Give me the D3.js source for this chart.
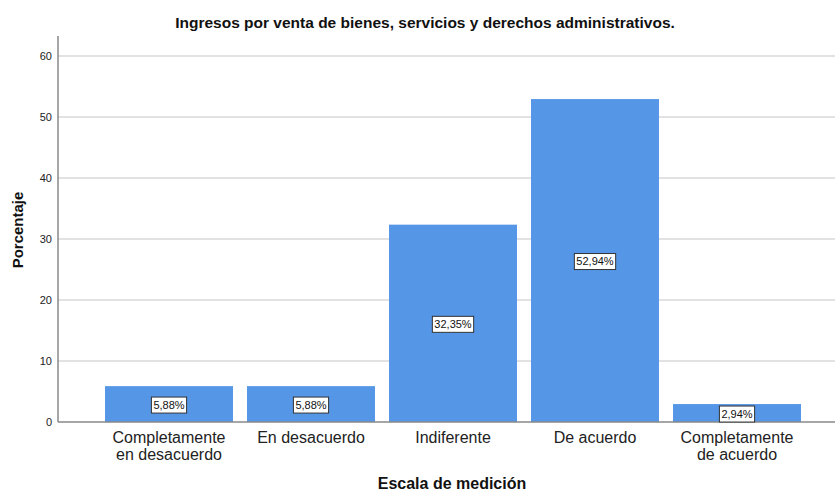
<!DOCTYPE html>
<html lang="es">
<head>
    <meta charset="UTF-8">
    <title>Ingresos por venta</title>
    <script src="https://cdn.jsdelivr.net/npm/d3@7"></script>
    <style>
        body { margin: 0; background: #fff; }
        svg { font-family: "Liberation Sans", Arial, sans-serif; }
        .grid line { stroke: #d9d9d9; stroke-width: 1.5px; }
        .bar { fill: #5596e6; }
    </style>
</head>
<body>
<div id="chartArea"></div>
<script>
    'use strict';

    const categories = [
        ['Completamente', 'en desacuerdo'],
        ['En desacuerdo'],
        ['Indiferente'],
        ['De acuerdo'],
        ['Completamente', 'de acuerdo']
    ];
    const percentages = [5.88, 5.88, 32.35, 52.94, 2.94];
    const yTicks = [0, 10, 20, 30, 40, 50, 60];

    const width = 835, height = 494;
    const plotLeft = 58, plotTop = 36, plotBottom = 422;

    const svg = d3.select('#chartArea').append('svg')
        .attr('width', width).attr('height', height);

    const keys = categories.map(c => c.join(' '));

    const x = d3.scaleBand().domain(keys).range([98, 808]).paddingInner(0.0986).paddingOuter(0.0493);
    const y = d3.scaleLinear().domain([0, 60]).range([plotBottom, 56]);

    // gridlines
    svg.append('g').attr('class', 'grid')
        .selectAll('line').data(yTicks.filter(d => d > 0)).enter().append('line')
        .attr('x1', plotLeft).attr('x2', width)
        .attr('y1', d => y(d)).attr('y2', d => y(d));

    // bars
    svg.selectAll('rect.bar').data(percentages).enter().append('rect')
        .attr('class', 'bar')
        .attr('x', (d, i) => x(keys[i]))
        .attr('y', d => y(d))
        .attr('width', x.bandwidth())
        .attr('height', d => plotBottom - y(d));

    // y axis
    const yAxis = svg.append('g').attr('transform', `translate(${plotLeft},0)`)
        .call(d3.axisLeft(y).tickValues(yTicks).tickSize(0).tickPadding(6));
    yAxis.select('.domain').remove();
    yAxis.selectAll('text').attr('font-size', 11).attr('fill', '#222')
        .attr('font-family', '"Liberation Sans", Arial, sans-serif');
    svg.append('line').attr('x1', plotLeft).attr('x2', plotLeft).attr('y1', plotTop).attr('y2', plotBottom)
        .attr('stroke', '#888').attr('stroke-width', 1.5);

    // baseline
    svg.append('line').attr('x1', plotLeft).attr('x2', width).attr('y1', plotBottom).attr('y2', plotBottom)
        .attr('stroke', '#888').attr('stroke-width', 1.5);

    // x axis labels
    const xAxis = svg.append('g').attr('transform', `translate(0,${plotBottom})`)
        .call(d3.axisBottom(x).tickSize(0).tickFormat(''));
    xAxis.select('.domain').remove();
    xAxis.selectAll('.tick').each(function (d, i) {
        const t = d3.select(this).append('text')
            .attr('text-anchor', 'middle').attr('fill', '#222').attr('font-size', 16)
            .attr('font-family', '"Liberation Sans", Arial, sans-serif');
        categories[i].forEach((line, j) => {
            t.append('tspan').attr('x', 0).attr('y', 21 + j * 17).text(line);
        });
    });

    // value labels
    const labels = svg.selectAll('g.lbl').data(percentages).enter().append('g')
        .attr('class', 'lbl')
        .attr('transform', (d, i) => `translate(${x(keys[i]) + x.bandwidth() / 2},${(y(d) + plotBottom) / 2 + 1})`);
    labels.each(function (d) {
        const g = d3.select(this);
        const txt = g.append('text').attr('text-anchor', 'middle').attr('dy', '0.35em')
            .attr('font-size', 11).attr('fill', '#111')
            .text(d.toFixed(2).replace('.', ',') + '%');
        const w = txt.node().getComputedTextLength();
        g.insert('rect', 'text').attr('x', -w / 2 - 2).attr('y', -8).attr('width', w + 4).attr('height', 16)
            .attr('fill', '#fff').attr('stroke', '#333').attr('stroke-width', 1);
    });

    // titles
    svg.append('text').attr('x', 425).attr('y', 28).attr('text-anchor', 'middle')
        .attr('font-size', 15.5).attr('font-weight', 'bold').attr('fill', '#111')
        .text('Ingresos por venta de bienes, servicios y derechos administrativos.');
    svg.append('text').attr('x', 452).attr('y', 489).attr('text-anchor', 'middle')
        .attr('font-size', 16).attr('font-weight', 'bold').attr('fill', '#111')
        .text('Escala de medición');
    svg.append('text').attr('transform', 'translate(23,230) rotate(-90)').attr('text-anchor', 'middle')
        .attr('font-size', 15).attr('font-weight', 'bold').attr('fill', '#111')
        .text('Porcentaje');
</script>
</body>
</html>
